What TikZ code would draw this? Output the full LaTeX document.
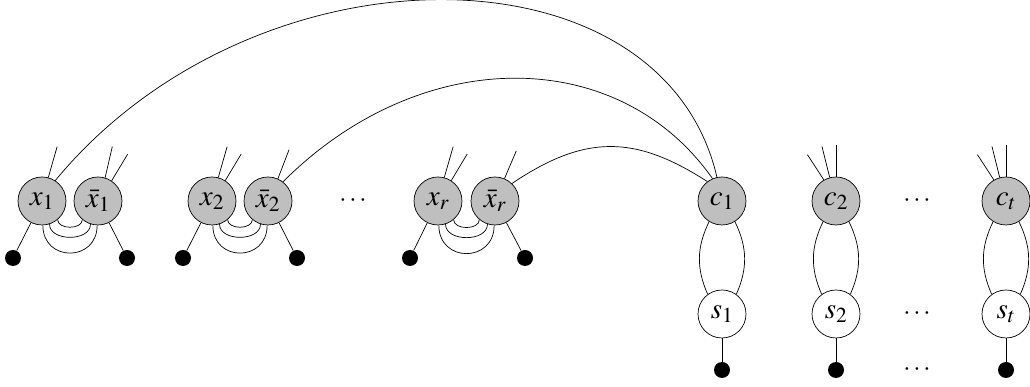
\documentclass[tikz,border=0pt]{standalone}
\usepackage{mathptmx}
\begin{document}
\begin{tikzpicture}[x=1pt,y=1pt,line width=0.7pt,
  vnode/.style={circle,draw,minimum size=48pt,inner sep=0pt,font=\fontsize{29}{33}\selectfont},
  gnode/.style={vnode,fill=black!25},
  wnode/.style={vnode,fill=white},
  dotnode/.style={circle,fill=black,minimum size=16pt,inner sep=0pt},
  ell/.style={inner sep=0pt,font=\fontsize{26}{30}\selectfont}]
\useasboundingbox (0,0) rectangle (1030,387);
% variable gadgets
\node[gnode] (x1) at (42,186) {$x_1$};
\node[gnode] (xb1) at (98,186) {$\bar{x}_1$};
\node[gnode] (x2) at (212,186) {$x_2$};
\node[gnode] (xb2) at (268,186) {$\bar{x}_2$};
\node[gnode] (xr) at (438,186) {$x_r$};
\node[gnode] (xbr) at (495,186) {$\bar{x}_r$};
\node[dotnode] (x1d) at (13,129) {};
\node[dotnode] (xb1d) at (127,129) {};
\node[dotnode] (x2d) at (183,129) {};
\node[dotnode] (xb2d) at (297,129) {};
\node[dotnode] (xrd) at (410,129) {};
\node[dotnode] (xbrd) at (525,129) {};
\node[ell] (e1) at (353,186) {$\cdots$};
% clause gadgets
\node[gnode] (c1) at (722,186) {$c_1$};
\node[gnode] (c2) at (836,186) {$c_2$};
\node[gnode] (ct) at (1006,186) {$c_t$};
\node[wnode] (s1) at (722,73) {$s_1$};
\node[wnode] (s2) at (836,73) {$s_2$};
\node[wnode] (st) at (1006,73) {$s_t$};
\node[dotnode] (s1d) at (722,17) {};
\node[dotnode] (s2d) at (836,17) {};
\node[dotnode] (std) at (1006,17) {};
\node[ell] (e2) at (917,186) {$\cdots$};
\node[ell] (e3) at (917,73) {$\cdots$};
\node[ell] (e4) at (917,17) {$\cdots$};
% pendant edges
\foreach \a/\b in {x1/x1d,xb1/xb1d,x2/x2d,xb2/xb2d,xr/xrd,xbr/xbrd,s1/s1d,s2/s2d,st/std}
  \draw (\a) -- (\b);
% arcs between literals
\foreach \a/\b in {x1/xb1,x2/xb2,xr/xbr}{
  \draw (\a.-50) to[out=-90,in=-90,looseness=1.05] (\b.-130);
  \draw (\a.-72) to[out=-90,in=-90,looseness=1.1] (\b.-108);
  \draw (\a.-88) to[out=-90,in=-90,looseness=1.75] (\b.-92);
}
% stubs
\foreach \n in {x1,x2,xr} \draw (\n.75) -- +(74:32);
\foreach \n in {x2,xr} \draw (\n.57) -- +(59:31);
\draw (xb1.73) -- +(77:32);
\draw (xb1.56) -- +(59:31);
\draw (xb2.66) -- +(69:31);
\draw (xbr.67) -- +(67:30);
\foreach \n in {c2,ct}{
  \draw (\n.90) -- +(90:32);
  \draw (\n.105) -- +(104:32);
  \draw (\n.120) -- +(123:30);
}
% clause-satisfier double edges
\foreach \c/\s in {c1/s1,c2/s2,ct/st}{
  \draw (\c.238) to[bend right=25] (\s.126);
  \draw (\c.302) to[bend left=25] (\s.54);
}
% literal-clause curves
\draw (x1.57) .. controls +(199,241) and +(-55,237) .. (c1.102);
\draw (xb2.52) .. controls +(138,138) and +(-94,134) .. (c1.113);
\draw (xbr.46) .. controls +(73,49) and +(-73,47) .. (c1.127);
\end{tikzpicture}
\end{document}
